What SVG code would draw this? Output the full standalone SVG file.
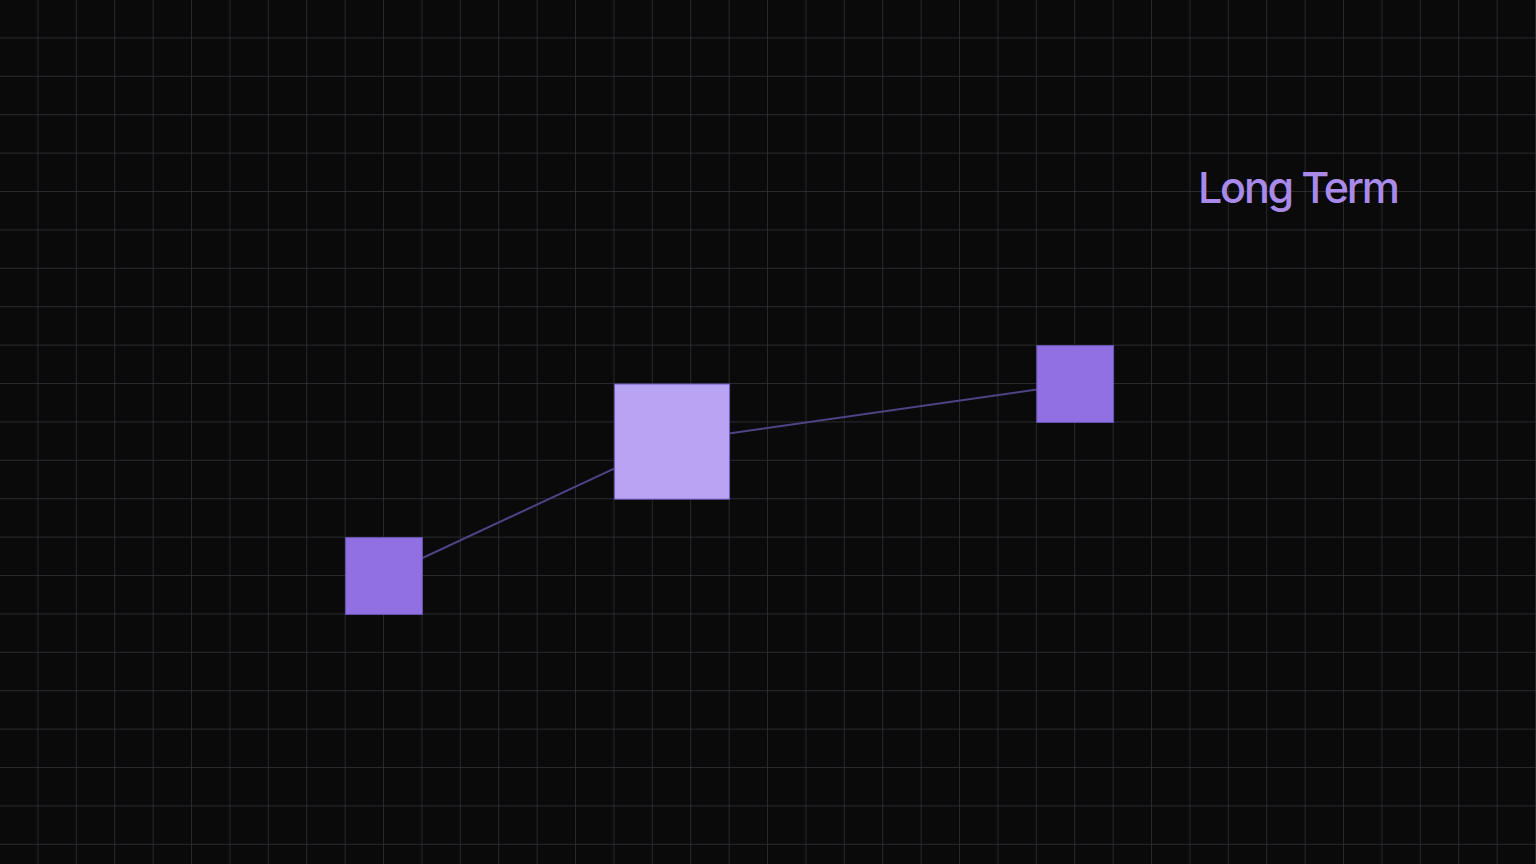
<svg xmlns="http://www.w3.org/2000/svg" width="1536" height="864" viewBox="0 0 1536 864">
<defs>
<pattern id="grid" width="38.4" height="38.4" patternUnits="userSpaceOnUse">
<path d="M38.4 0V38.4M0 38.4H38.4" fill="none" stroke="#34333a" stroke-width="1.4"/>
</pattern>
<style>
.node{stroke:#6b58b8;stroke-width:1}
.sm{fill:#9170e3}
.lg{fill:#b9a3f3}
.edge{stroke:#4f4386;stroke-width:2;fill:none}
.label{font-family:Inter,"Noto Sans",sans-serif;font-size:43px;font-weight:500;fill:#a98ae9;letter-spacing:-2.2px}
</style>
</defs>
<rect width="1536" height="864" fill="#0a0a0b"/>
<rect width="1536" height="864" fill="url(#grid)"/>
<g id="connectors">
<line class="edge" x1="384" y1="576" x2="672" y2="441.6"/>
<line class="edge" x1="672" y1="441.6" x2="1075.2" y2="384"/>
</g>
<g id="node-left"><rect class="node sm" x="345.6" y="537.6" width="76.8" height="76.8"/></g>
<g id="node-center"><rect class="node lg" x="614.4" y="384" width="115.2" height="115.2"/></g>
<g id="node-right"><rect class="node sm" x="1036.8" y="345.6" width="76.8" height="76.8"/></g>
<g id="label"><text class="label" x="1198" y="203">Long Term</text></g>
</svg>
